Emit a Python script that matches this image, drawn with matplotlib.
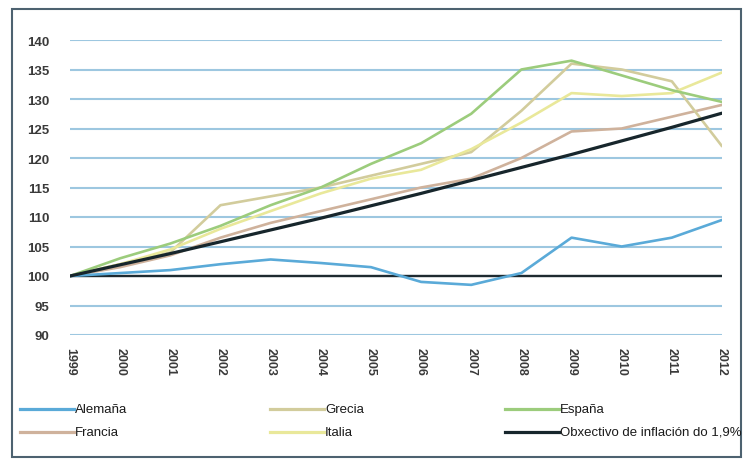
import matplotlib.pyplot as plt
from matplotlib.lines import Line2D
from matplotlib.patches import Rectangle
import logging

logging.getLogger("matplotlib.font_manager").setLevel(logging.ERROR)

years = list(range(1999, 2013))
alemana = [100, 100.5, 101, 102, 102.8, 102.2, 101.5, 99, 98.5, 100.5, 106.5, 105, 106.5, 109.5]
grecia = [100, 102, 104, 112, 113.5, 115, 117, 119, 121, 128, 136, 135, 133, 122]
espana = [100, 103, 105.5, 108.5, 112, 115, 119, 122.5, 127.5, 135, 136.5, 134, 131.5, 129.5]
francia = [100, 101.5, 103.5, 106.5, 109, 111, 113, 115, 116.5, 120, 124.5, 125, 127, 129]
italia = [100, 102, 104.5, 108, 111, 114, 116.5, 118, 121.5, 126, 131, 130.5, 131, 134.5]
obxectivo = [100, 101.9, 103.8, 105.8, 107.8, 109.8, 111.9, 114.0, 116.2, 118.4, 120.6, 122.9, 125.2, 127.6]
yticks = [90, 95, 100, 105, 110, 115, 120, 125, 130, 135, 140]

series = [
    ("Alemaña", alemana, "#5aaad8", 1.9),
    ("Grecia", grecia, "#d2cc9c", 1.9),
    ("España", espana, "#9ccc7c", 1.9),
    ("Francia", francia, "#cfb29c", 1.9),
    ("Italia", italia, "#e9e89a", 1.9),
    ("Obxectivo de inflación do 1,9%", obxectivo, "#17262c", 2.3),
]

cond = ['Liberation Sans Narrow', 'Liberation Sans', 'DejaVu Sans']

fig = plt.figure(figsize=(7.44, 4.60), dpi=100)
ax = fig.add_axes([70 / 744, 1 - 336 / 460, 652 / 744, 295 / 460])

for y in yticks:
    ax.axhline(y, color="#9dc7e0", lw=1.5, zorder=1)
ax.axhline(100, color="#1e2a30", lw=1.7, zorder=2)

# draw order: lighter lines first, target on top
for name, vals, col, lw in [series[3], series[1], series[4], series[2], series[0], series[5]]:
    ax.plot(years, vals, color=col, lw=lw, zorder=3, solid_capstyle="round")

ax.set_xlim(1999, 2012)
ax.set_ylim(90, 140)
ax.set_yticks(yticks)
ax.set_xticks(years)
ax.set_xticklabels([str(y) for y in years], rotation=-90, fontweight="bold",
                   fontsize=9, color="#3a3a3a", family=cond)
ax.set_yticklabels([str(y) for y in yticks], fontweight="bold", fontsize=9.5,
                   color="#3a3a3a", family=cond)
ax.tick_params(length=0)
ax.tick_params(axis="y", pad=15)
ax.tick_params(axis="x", pad=9)
for s in ax.spines.values():
    s.set_visible(False)

# outer frame
fig.patches.append(Rectangle((12 / 744, 2 / 460), 729 / 744, 448 / 460,
                             transform=fig.transFigure, fill=False,
                             edgecolor="#4d6270", lw=1.5))

# legend, three columns x two rows
col_x = [20, 270, 505]
row_y = [410, 433]
for i, (name, vals, col, lw) in enumerate(series):
    cx = col_x[i % 3]
    ry = 1 - row_y[i // 3] / 460
    fig.add_artist(Line2D([cx / 744, (cx + 54) / 744], [ry, ry],
                          transform=fig.transFigure, color=col, lw=2.3))
    fig.text((cx + 55) / 744, ry, name, fontsize=9.5, va="center", ha="left",
             color="#1a1a1a", family=cond)

fig.savefig("out.png", dpi=100)
